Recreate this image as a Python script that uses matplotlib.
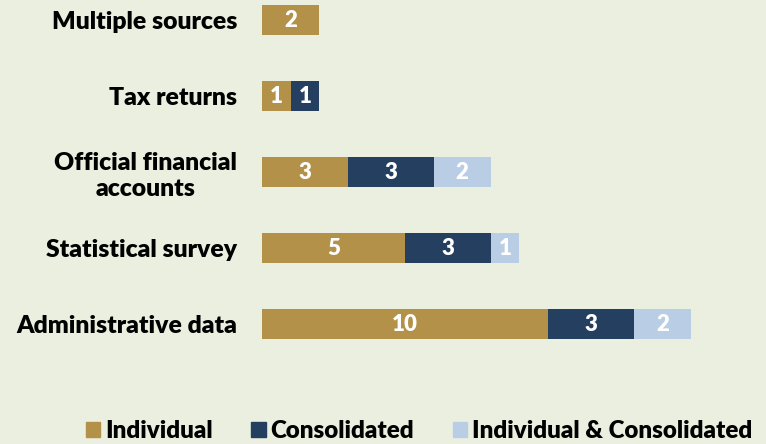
import matplotlib.pyplot as plt
from matplotlib.patches import Patch

# data (bottom to top)
categories = ["Administrative data", "Statistical survey", "Official financial\naccounts",
              "Tax returns", "Multiple sources"]
individual = [10, 5, 3, 1, 2]
consolidated = [3, 3, 3, 1, 0]
both = [2, 1, 2, 0, 0]
series_names = ["Individual", "Consolidated", "Individual & Consolidated"]
colors = ["#B39149", "#243F60", "#B9CDE5"]

bg = "#EBEFE0"
plt.rcParams['font.family'] = ['Lato', 'DejaVu Sans']

fig = plt.figure(figsize=(7.66, 4.44), dpi=100, facecolor=bg)
ax = fig.add_axes([262 / 766, 84 / 444, 504 / 766, 360 / 444])
ax.set_facecolor(bg)

y = range(len(categories))
left = [0] * len(categories)
for vals, col in zip([individual, consolidated, both], colors):
    bars = ax.barh(y, vals, left=left, height=0.4, color=col)
    for b, v in zip(bars, vals):
        if v > 0:
            ax.text(b.get_x() + b.get_width() / 2, b.get_y() + b.get_height() / 2, str(v),
                    ha="center", va="center", color="white", fontsize=16, fontweight="heavy")
    left = [l + v for l, v in zip(left, vals)]

ax.set_xlim(0, 504 / 28.6)
ax.set_ylim(-36 / 76, 4 + 20 / 76)
ax.set_yticks(list(y))
ax.set_yticklabels(categories, fontsize=17.8, fontweight="heavy", multialignment="center",
                   linespacing=1.2)
ax.tick_params(axis="y", length=0, pad=18)
ax.set_xticks([])
for s in ax.spines.values():
    s.set_visible(False)

handles = [Patch(color=c) for c in colors]
fig.legend(handles, series_names, loc="lower center", bbox_to_anchor=(0.547, -0.045), ncol=3,
           frameon=False, prop={"size": 17.4, "weight": "heavy"}, handlelength=0.6,
           handleheight=0.6, handletextpad=0.2, columnspacing=1.6)

fig.savefig("out.png", dpi=100, facecolor=bg)
